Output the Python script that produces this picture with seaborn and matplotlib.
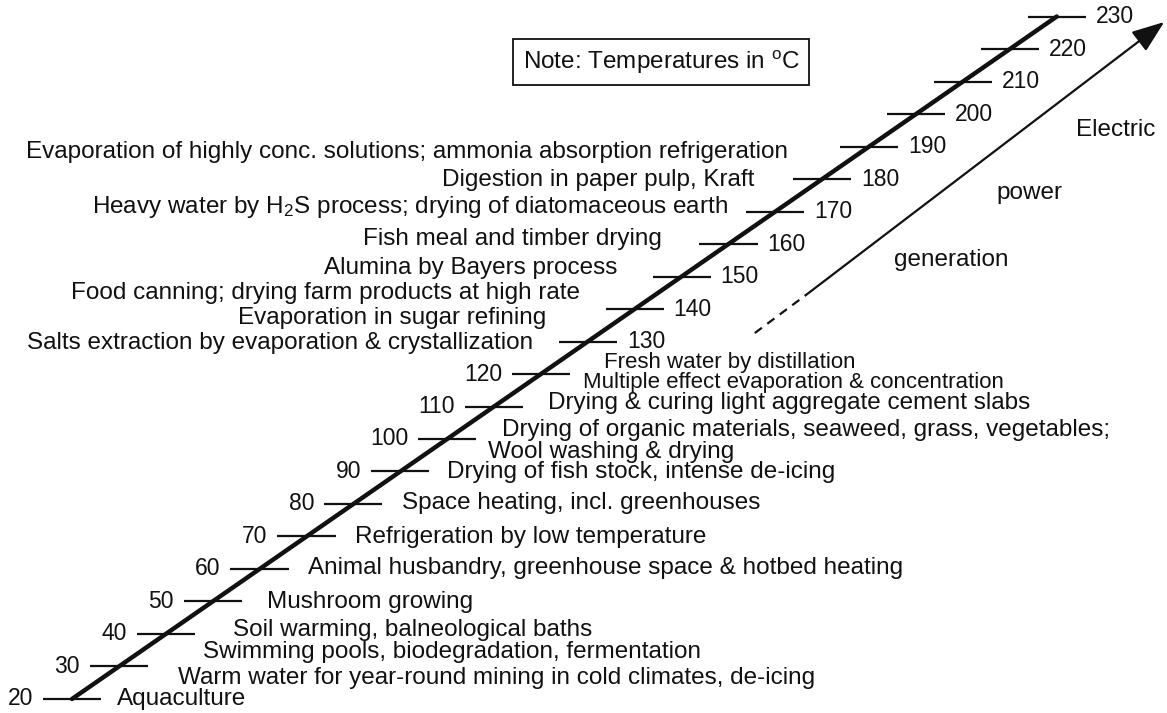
import numpy as np
import pandas as pd
import seaborn as sns
import matplotlib.pyplot as plt

# temperature scale along the diagonal (deg C)
scale_temps = list(range(20, 240, 10))

# applications written to the right of the scale (low temperature end)
right_apps = [
    'Aquaculture',
    'Warm water for year-round mining in cold climates, de-icing',
    'Swimming pools, biodegradation, fermentation',
    'Soil warming, balneological baths',
    'Mushroom growing',
    'Animal husbandry, greenhouse space & hotbed heating',
    'Refrigeration by low temperature',
    'Space heating, incl. greenhouses',
    'Drying of fish stock, intense de-icing',
    'Wool washing & drying',
    'Drying of organic materials, seaweed, grass, vegetables;',
    'Drying & curing light aggregate cement slabs',
    'Multiple effect evaporation & concentration',
    'Fresh water by distillation',
]
right_temps = [20, 26.5, 34.5, 41.2, 49.8, 60.3, 69.8, 80.3, 89.8, 96.0, 102.8, 111.0, 117.45, 123.6]

# applications written to the left of the scale (high temperature end)
left_apps = [
    'Evaporation of highly conc. solutions; ammonia absorption refrigeration',
    'Digestion in paper pulp, Kraft',
    r'Heavy water by H$_\mathrm{2}$S process; drying of diatomaceous earth',
    'Fish meal and timber drying',
    'Alumina by Bayers process',
    'Food canning; drying farm products at high rate',
    'Evaporation in sugar refining',
    'Salts extraction by evaporation & crystallization',
]
left_temps = [188.3, 179.7, 171.4, 161.5, 152.6, 144.9, 137.2, 129.5]

# electric power generation arrow: dashed from, solid from, tip
power_temps = [132.6, 144.3, 228.3]
power_words = ['Electric', 'power', 'generation']

# layout nudges (horizontal, in scale units)
right_dx = [9.6, 16.1, 13.4, 13.1, 11.8, 10.0, 10.5, 10.1, 10.2, 12.7, 8.9, 10.5, 11.55, 9.8]
right_fs = [17.5] * 12 + [16, 16]
left_dx = [-15.6, -14.1, -11.5, -15.7, -16.4, -16.6, -16.1, -11.2]
power_dx = [33.0, 32.2, 24.6]
word_pos = [(242.6, 195.1), (224.1, 175.7), (207.6, 155.1)]
hw, gap = 6.2, 2.1

sns.set_theme(style='white')
plt.rcParams['font.family'] = ['Liberation Sans', 'DejaVu Sans']
plt.rcParams['mathtext.fontset'] = 'custom'
plt.rcParams['mathtext.rm'] = 'Liberation Sans'
plt.rcParams['mathtext.it'] = 'Liberation Sans:italic'
ink = '#111111'
fs = 17.5

fig = plt.figure(figsize=(11.67, 7.13), dpi=100)
ax = fig.add_axes([0, 0, 1, 1])
ax.set_xlim(4.65, 253.5)
ax.set_ylim(15.69, 235.08)
ax.axis('off')

sns.lineplot(x=scale_temps, y=scale_temps, color=ink, lw=3.2, ax=ax)
t = np.array(scale_temps)
ax.hlines(t, t - hw, t + hw, color=ink, lw=1.6)
for v in scale_temps:
    if v <= 120:
        ax.text(v - hw - gap, v, str(v), ha='right', va='center', fontsize=16.5, color=ink)
    else:
        ax.text(v + hw + gap, v, str(v), ha='left', va='center', fontsize=16.5, color=ink)

for lab, y, dx, f in zip(right_apps, right_temps, right_dx, right_fs):
    ax.text(y + dx, y, lab, ha='left', va='center', fontsize=f, color=ink)

for lab, y, dx in zip(left_apps, left_temps, left_dx):
    ax.text(y + dx, y, lab, ha='right', va='center', fontsize=fs, color=ink)

# power generation arrow
px = [p + d for p, d in zip(power_temps, power_dx)]
ax.plot(px[:2], power_temps[:2], color=ink, lw=1.6, ls=(0, (4, 3)))
ax.annotate('', xy=(px[2], power_temps[2]), xytext=(px[1], power_temps[1]),
            arrowprops=dict(arrowstyle='-|>,head_length=0.8,head_width=0.3',
                            mutation_scale=25, color=ink, lw=1.6, shrinkA=0, shrinkB=0))
for w, (x, y) in zip(power_words, word_pos):
    ax.text(x, y, w, ha='center', va='center', fontsize=fs, color=ink)

ax.text(145.6, 216, r'Note: Temperatures in $^\mathrm{o}$C', ha='center', va='center',
        fontsize=fs, color=ink,
        bbox=dict(boxstyle='square,pad=0.4', fc='white', ec=ink, lw=1.3))

fig.savefig('out.png', dpi=100, facecolor='white')
